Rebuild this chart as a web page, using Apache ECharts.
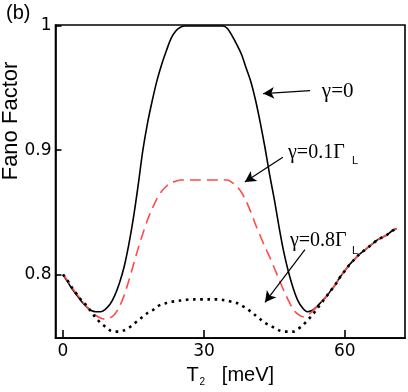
<!DOCTYPE html>
<html lang="en">
<head>
    <meta charset="UTF-8">
    <title>Fano Factor</title>
    <script src="https://cdn.jsdelivr.net/npm/echarts@6/dist/echarts.min.js"></script>
    <style>
        html, body { margin: 0; padding: 0; background: #fff; }
    </style>
</head>
<body>
<div id="main" style="width:408px;height:392px;"></div>
<script>
    // T2 [meV]
    var tVals = [0, 1, 2, 3, 4, 5, 6, 7, 8, 9, 10, 11, 12, 13, 14, 15, 16, 17, 18, 19,
        20, 21, 22, 23, 24, 25, 26, 27, 28, 29, 30, 31, 32, 33, 34, 35, 36, 37, 38, 39,
        40, 41, 42, 43, 44, 45, 46, 47, 48, 49, 50, 51, 52, 53, 54, 55, 56, 57, 58, 59,
        60, 61, 62, 63, 64, 65, 66, 67, 68, 69, 70, 71];

    // gamma = 0
    var fano0 = [0.800, 0.794, 0.788, 0.783, 0.778, 0.774, 0.771, 0.770, 0.770, 0.772,
        0.776, 0.783, 0.793, 0.806, 0.824, 0.846, 0.872, 0.900, 0.922, 0.940,
        0.956, 0.969, 0.980, 0.990, 0.996, 0.999, 1.000, 1.000, 1.000, 1.000,
        1.000, 1.000, 1.000, 1.000, 1.000, 0.998, 0.992, 0.985, 0.977, 0.966,
        0.955, 0.940, 0.922, 0.902, 0.880, 0.860, 0.838, 0.818, 0.802, 0.789,
        0.779, 0.773, 0.770, 0.771, 0.774, 0.778, 0.782, 0.787, 0.792, 0.798,
        0.803, 0.808, 0.812, 0.816, 0.819, 0.822, 0.825, 0.828, 0.830, 0.832,
        0.835, 0.837];

    // gamma = 0.1 Gamma_L
    var fano01 = [0.800, 0.795, 0.789, 0.784, 0.779, 0.774, 0.770, 0.767, 0.765, 0.764,
        0.765, 0.768, 0.774, 0.783, 0.795, 0.808, 0.821, 0.833, 0.844, 0.853,
        0.861, 0.867, 0.871, 0.874, 0.875, 0.876, 0.876, 0.876, 0.876, 0.876,
        0.876, 0.876, 0.876, 0.876, 0.876, 0.876, 0.874, 0.871, 0.866, 0.859,
        0.850, 0.840, 0.831, 0.822, 0.814, 0.805, 0.796, 0.787, 0.779, 0.772,
        0.768, 0.766, 0.767, 0.770, 0.774, 0.778, 0.782, 0.787, 0.792, 0.798,
        0.803, 0.808, 0.812, 0.816, 0.819, 0.822, 0.825, 0.828, 0.830, 0.832,
        0.835, 0.837];

    // gamma = 0.8 Gamma_L
    var fano08 = [0.800, 0.795, 0.789, 0.784, 0.779, 0.775, 0.770, 0.765, 0.761, 0.758,
        0.755, 0.754, 0.754, 0.755, 0.757, 0.760, 0.763, 0.766, 0.769, 0.771,
        0.774, 0.776, 0.777, 0.778, 0.7785, 0.779, 0.7795, 0.780, 0.780, 0.780,
        0.780, 0.780, 0.780, 0.780, 0.7795, 0.779, 0.778, 0.777, 0.775, 0.773,
        0.770, 0.767, 0.764, 0.761, 0.759, 0.757, 0.755, 0.754, 0.754, 0.754,
        0.756, 0.759, 0.763, 0.767, 0.772, 0.777, 0.782, 0.787, 0.792, 0.798,
        0.803, 0.808, 0.812, 0.816, 0.819, 0.822, 0.825, 0.828, 0.830, 0.832,
        0.835, 0.837];

    var xTicks = [0, 30, 60];
    var yTicks = [0.8, 0.9, 1];

    function pairs(ys) {
        return tVals.map(function (t, i) { return [t, ys[i]]; });
    }

    var myChart = echarts.init(document.getElementById('main'), null, {renderer: 'canvas'});

    var tickFont = {fontFamily: 'DejaVu Sans', fontSize: 17, color: '#000'};
    var serif = 'Liberation Serif';

    var option = {
        animation: false,
        grid: {
            left: 55.5, top: 25, right: 3, bottom: 53,
            show: true, borderColor: '#000', borderWidth: 1.6, backgroundColor: 'transparent'
        },
        graphic: [
            {type: 'text', left: 6, top: 3,
                style: {text: '(b)', font: '20px "Liberation Sans"', fill: '#000'}},
            {type: 'text', x: 11, y: 121, rotation: Math.PI / 2,
                style: {text: 'Fano Factor', font: '22px "Liberation Sans"', fill: '#000',
                    align: 'center', verticalAlign: 'middle'}}
        ],
        xAxis: {
            type: 'value', min: -1.6, max: 72.8,
            name: 'T{s|2}   [meV]', nameLocation: 'middle', nameGap: 19,
            nameTextStyle: {
                fontFamily: 'Liberation Sans', fontSize: 20, color: '#000', verticalAlign: 'top',
                rich: {s: {fontFamily: 'Liberation Sans', fontSize: 10, color: '#000', padding: [14, 0, 0, 1]}}
            },
            splitLine: {show: false},
            axisLine: {show: true, onZero: false, lineStyle: {color: '#000', width: 1.6}},
            axisTick: {show: true, inside: true, length: 8, customValues: xTicks, lineStyle: {color: '#000', width: 1.6}},
            axisLabel: Object.assign({margin: 5, customValues: xTicks}, tickFont)
        },
        yAxis: {
            type: 'value', min: 0.7488, max: 1.0008,
            splitLine: {show: false},
            axisLine: {show: true, onZero: false, lineStyle: {color: '#000', width: 1.6}},
            axisTick: {show: true, inside: true, length: 6, customValues: yTicks, lineStyle: {color: '#000', width: 1.6}},
            axisLabel: Object.assign({margin: 4, customValues: yTicks,
                formatter: function (v) { return v === 1 ? '1' : v.toFixed(1); }}, tickFont)
        },
        series: [
            {
                name: 'g0', type: 'line', data: pairs(fano0), showSymbol: false, smooth: 0.3,
                lineStyle: {color: '#000', width: 1.6},
                markLine: {
                    silent: true, symbol: ['none', 'arrow'], symbolSize: [9, 11],
                    lineStyle: {color: '#000', width: 1.2, type: 'solid'},
                    label: {show: false},
                    data: [
                        [{coord: [52.6, 0.948]}, {coord: [42.6, 0.9456]}],
                        [{coord: [46.8, 0.8944]}, {coord: [38.7, 0.8744]}],
                        [{coord: [51.5, 0.820]}, {coord: [43.0, 0.7776]}]
                    ]
                },
                markPoint: {
                    silent: true, symbol: 'circle', symbolSize: 0,
                    label: {show: true, position: 'right', distance: 0, color: '#000'},
                    data: [
                        {coord: [55.1, 0.9472], label: {formatter: 'γ=0', fontFamily: serif, fontSize: 21}},
                        {coord: [47.9, 0.8976], label: {formatter: 'γ=0.1Γ', fontFamily: serif, fontSize: 20}},
                        {coord: [61.5, 0.891], label: {formatter: 'L', fontFamily: 'Liberation Sans', fontSize: 11}},
                        {coord: [48.3, 0.8272], label: {formatter: 'γ=0.8Γ', fontFamily: serif, fontSize: 20}},
                        {coord: [61.5, 0.819], label: {formatter: 'L', fontFamily: 'Liberation Sans', fontSize: 11}}
                    ]
                }
            },
            {
                name: 'g01', type: 'line', data: pairs(fano01), showSymbol: false, smooth: 0.3,
                lineStyle: {color: '#ff4a4a', width: 1.6, type: [11, 6]}
            },
            {
                name: 'g08', type: 'line', data: pairs(fano08), showSymbol: false, smooth: 0.3,
                lineStyle: {color: '#000', width: 2.6, type: [2.6, 4.6], cap: 'butt'}
            }
        ]
    };

    myChart.setOption(option);
</script>
</body>
</html>
